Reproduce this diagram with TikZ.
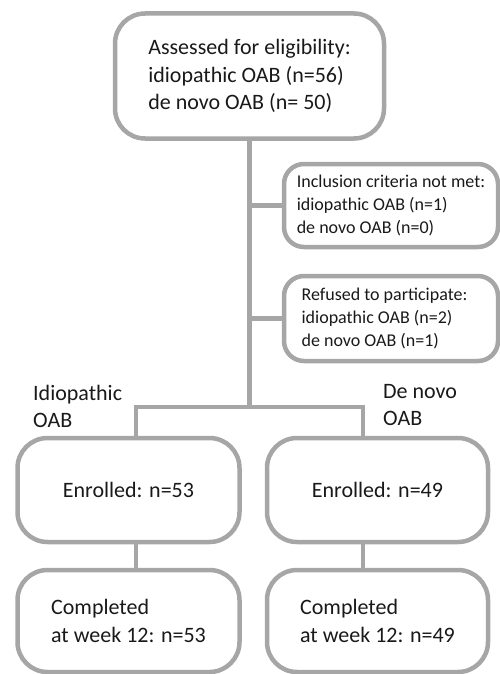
\documentclass[tikz,border=0pt]{standalone}
\usepackage{fontspec}
\setmainfont{Carlito}
\usetikzlibrary{positioning}
\definecolor{boxgray}{HTML}{A6A6A6}
\tikzset{
  flowbox/.style={draw=boxgray, line width=4.5pt, rounded corners=30pt, align=left,
    inner sep=0pt, text=black!90, font=\fontsize{22}{27.5}\selectfont},
  sidebox/.style={flowbox, rounded corners=20pt, font=\fontsize{18}{23}\selectfont},
  armlabel/.style={inner sep=0pt, align=left, anchor=west, text=black!90,
    font=\fontsize{22}{27}\selectfont},
  link/.style={draw=boxgray, line width=4.5pt}
}
\begin{document}
\begin{tikzpicture}[x=1pt, y=-1pt]
\useasboundingbox (0,0) rectangle (500,674);

\node[flowbox, minimum width=269pt, minimum height=125pt] (assess) at (249.5,76)
  {Assessed for eligibility:\\idiopathic OAB (n=56)\\de novo OAB (n= 50)};
\node[sidebox, minimum width=214pt, minimum height=83pt] (notmet) at (391,205.5)
  {Inclusion criteria not met:\\idiopathic OAB (n=1)\\de novo OAB (n=0)};
\node[sidebox, minimum width=214pt, minimum height=85pt] (refused) at (391,318.5)
  {Refused to participate:\rule{13pt}{0pt}\\idiopathic OAB (n=2)\\de novo OAB (n=1)};

\node[flowbox, minimum width=222pt, minimum height=104pt] (enrL) at (128.5,490) {Enrolled: n=53};
\node[flowbox, minimum width=221pt, minimum height=104pt] (enrR) at (377.5,490) {Enrolled: n=49};
\node[flowbox, minimum width=222pt, minimum height=102pt] (compL) at (128.5,621)
  {Completed\\at week 12: n=53};
\node[flowbox, minimum width=221pt, minimum height=102pt] (compR) at (377.5,621)
  {Completed\\at week 12: n=49};

\node[armlabel] (idio) at (33,406) {Idiopathic\\OAB};
\node[armlabel] (denovo) at (383,405) {De novo\\OAB};

\coordinate (jL) at (136,407);
\coordinate (jR) at (363,407);

\draw[link] (assess.south) -- (assess.south |- jL);
\draw[link] (notmet.west -| assess.south) -- (notmet.west);
\draw[link] (refused.west -| assess.south) -- (refused.west);
\draw[link] (jL |- enrL.north) -- (jL) -- (jR) -- (jR |- enrR.north);
\draw[link] (jL |- enrL.south) -- (jL |- compL.north);
\draw[link] (jR |- enrR.south) -- (jR |- compR.north);

\end{tikzpicture}
\end{document}
